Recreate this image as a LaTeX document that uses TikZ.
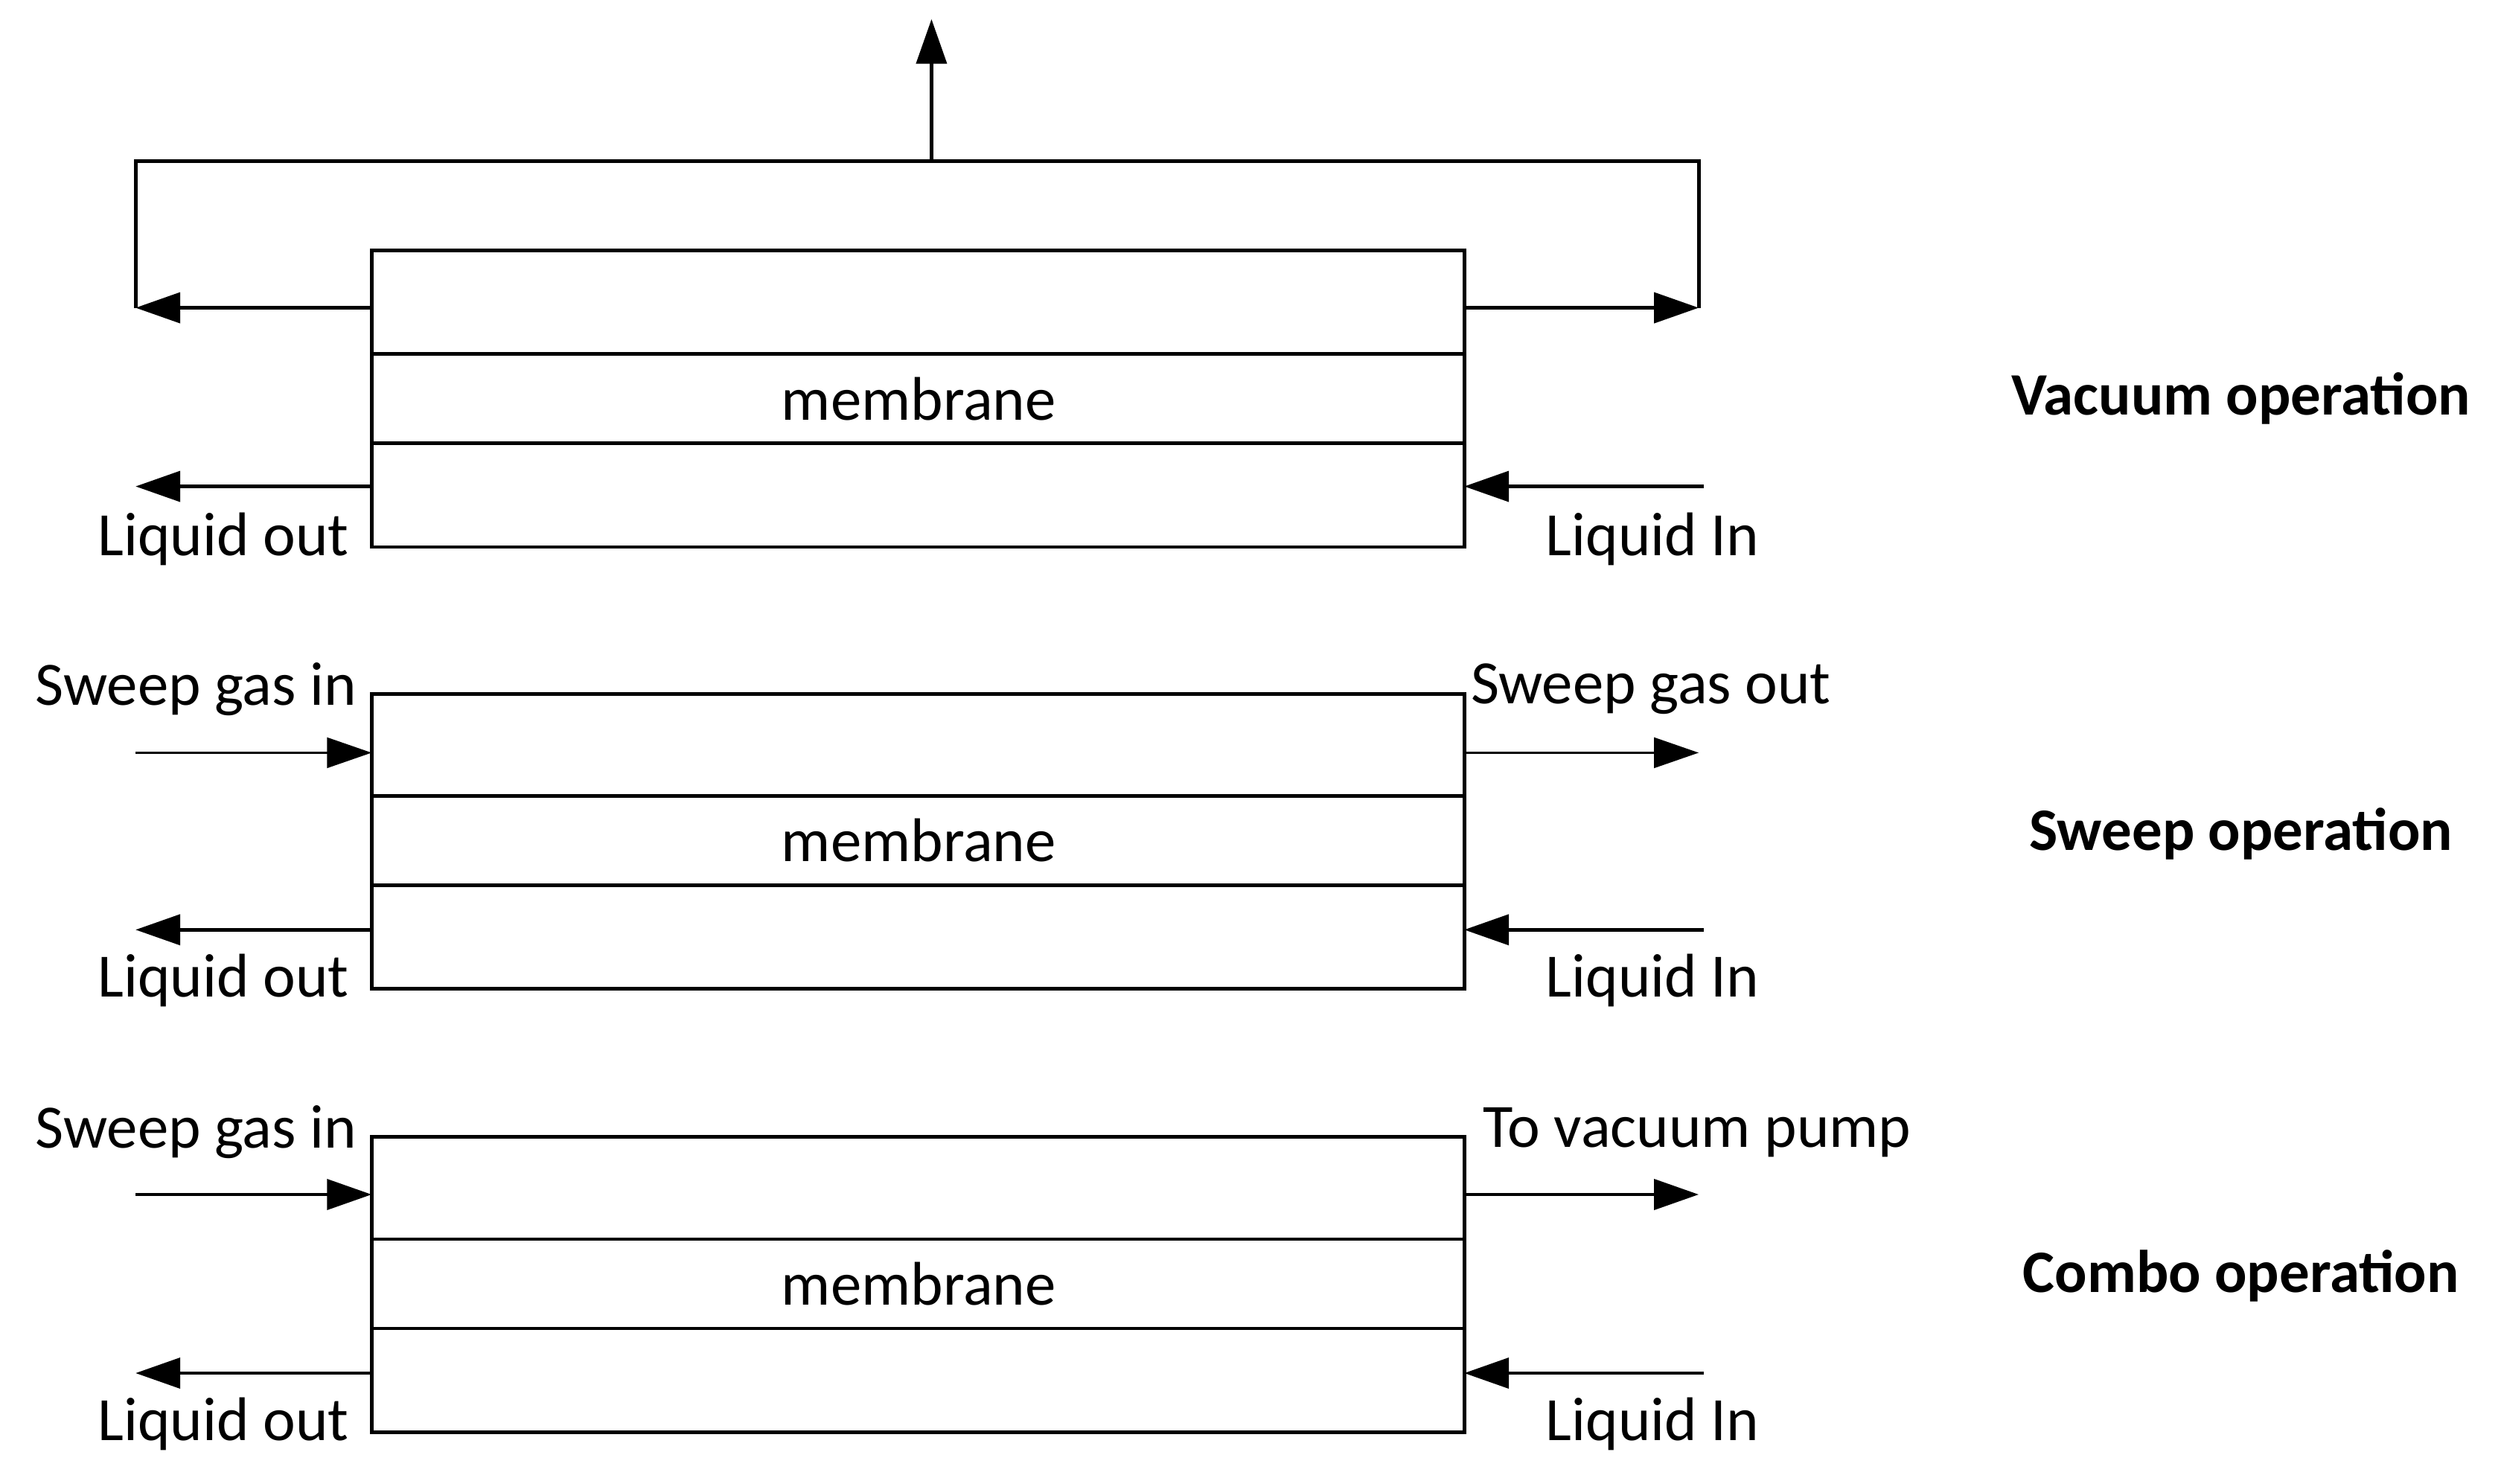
\documentclass[tikz,border=0pt]{standalone}
\usepackage{fontspec}
\setmainfont{Carlito}
\usetikzlibrary{arrows.meta}
\begin{document}
\begin{tikzpicture}[x=0.02cm,y=-0.02cm,
  line/.style={line width=1.3pt},
  arr/.style={line width=1.3pt,-{Triangle[length=0.56cm,width=0.38cm]}},
  thin arr/.style={line width=0.8pt,-{Triangle[length=0.56cm,width=0.38cm]}},
  lbl/.style={font=\fontsize{22}{26}\selectfont,inner sep=0pt},
  title/.style={font=\fontsize{21.5}{26}\selectfont\bfseries,inner sep=0pt}]
\useasboundingbox (0,0) rectangle (1568,930.5);
\foreach \n/\t/\a/\b/\c/\d in {A/157/222/278/343/250,B/435/499/555/620/527,C/713/777/833/898/805}{
  \draw[line] (233,\t) rectangle (918,\c);
  \draw[line] (233,\a) -- (918,\a);
  \draw[line] (233,\b) -- (918,\b);
  \node[lbl] (mem\n) at (576,\d) {membrane};
}
\foreach \n/\y/\ly in {A/305/338,B/583/615,C/861/893}{
  \coordinate (lo\n) at (233,\y); \coordinate (loe\n) at (85,\y);
  \coordinate (li\n) at (1068,\y); \coordinate (lie\n) at (918,\y);
  \draw[arr] (lo\n) -- (loe\n);
  \draw[arr] (li\n) -- (lie\n);
  \node[lbl] (lout\n) at (140,\ly) {Liquid out};
  \node[lbl] (lin\n) at (1036,\ly) {Liquid In};
}
\coordinate (vl) at (233,193); \coordinate (vle) at (85,193);
\coordinate (vr) at (918,193); \coordinate (vre) at (1065,193);
\coordinate (tl) at (85,101); \coordinate (tr) at (1065,101);
\coordinate (tm) at (584,101); \coordinate (tt) at (584,12);
\draw[line] (vle) -- (tl) -- (tr) -- (vre);
\draw[arr] (vl) -- (vle);
\draw[arr] (vr) -- (vre);
\draw[arr] (tm) -- (tt);
\node[title] (t1) at (1405,250) {Vacuum operation};
\coordinate (s1) at (85,472); \coordinate (s1e) at (233,472);
\coordinate (s2) at (918,472); \coordinate (s2e) at (1065,472);
\draw[thin arr] (s1) -- (s1e);
\draw[thin arr] (s2) -- (s2e);
\node[lbl] (sgi) at (123,432) {Sweep gas in};
\node[lbl] (sgo) at (1035,432) {Sweep gas out};
\node[title] (t2) at (1405,523) {Sweep operation};
\coordinate (c1) at (85,749); \coordinate (c1e) at (233,749);
\coordinate (c2) at (918,749); \coordinate (c2e) at (1065,749);
\draw[arr] (c1) -- (c1e);
\draw[arr] (c2) -- (c2e);
\node[lbl] (cgi) at (123,710) {Sweep gas in};
\node[lbl] (cvp) at (1064,710) {To vacuum pump};
\node[title] (t3) at (1405,800) {Combo operation};
\end{tikzpicture}
\end{document}
